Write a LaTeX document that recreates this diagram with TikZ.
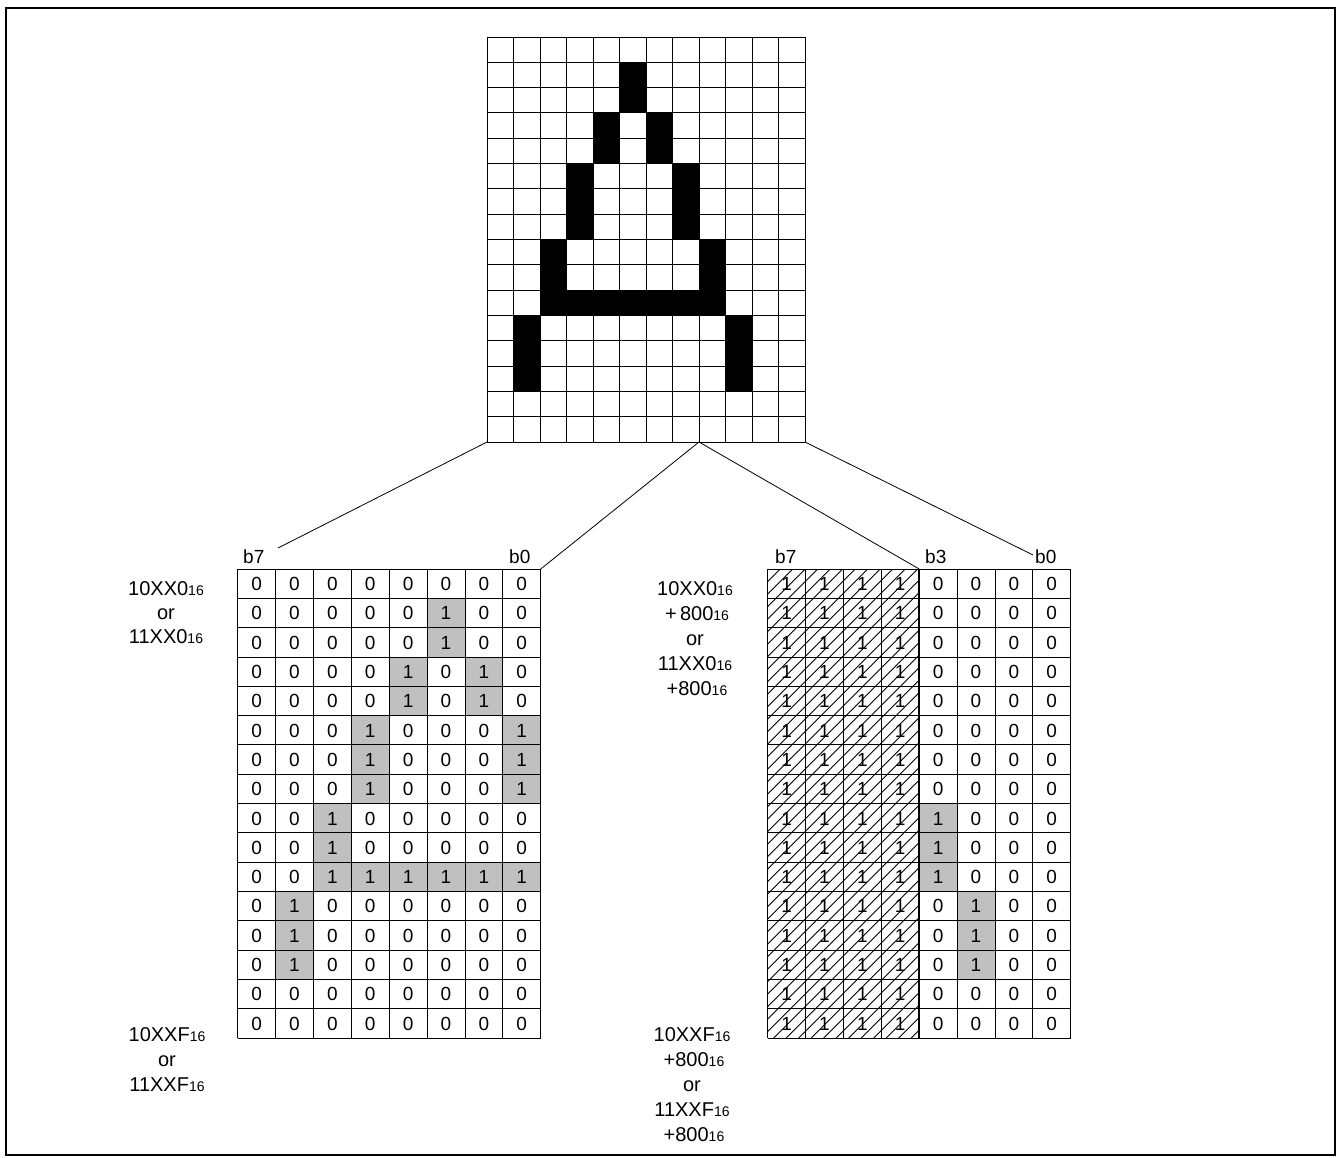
\documentclass[tikz,border=0pt]{standalone}
\usepackage{fontspec}
\setmainfont{Liberation Sans}
\definecolor{cellgray}{RGB}{192,192,192}
\newcommand{\hexsub}[1]{{\fontsize{14}{14}\selectfont #1}}
\begin{document}
\begin{tikzpicture}[x=1pt,y=-1pt,
  gline/.style={line width=0.9pt,black},
  conn/.style={line width=0.8pt,black},
  hatch/.style={line width=0.8pt,black},
  framebox/.style={line width=2pt,black},
  digit/.style={font=\fontsize{19}{19}\selectfont,anchor=base,inner sep=0pt},
  bitlbl/.style={font=\fontsize{19}{19}\selectfont,anchor=base west,inner sep=0pt},
  addr/.style={font=\fontsize{20}{20}\selectfont,anchor=base,inner sep=0pt}]
\useasboundingbox (0,0) rectangle (1343,1157);
\draw[framebox] (5.5,7.5) rectangle (1334.5,1155);
\def\bitmap{{0,0,0,0,0,0,0,0,0,0,0,0},
{0,0,0,0,0,1,0,0,0,0,0,0},
{0,0,0,0,0,1,0,0,0,0,0,0},
{0,0,0,0,1,0,1,0,0,0,0,0},
{0,0,0,0,1,0,1,0,0,0,0,0},
{0,0,0,1,0,0,0,1,0,0,0,0},
{0,0,0,1,0,0,0,1,0,0,0,0},
{0,0,0,1,0,0,0,1,0,0,0,0},
{0,0,1,0,0,0,0,0,1,0,0,0},
{0,0,1,0,0,0,0,0,1,0,0,0},
{0,0,1,1,1,1,1,1,1,0,0,0},
{0,1,0,0,0,0,0,0,0,1,0,0},
{0,1,0,0,0,0,0,0,0,1,0,0},
{0,1,0,0,0,0,0,0,0,1,0,0},
{0,0,0,0,0,0,0,0,0,0,0,0},
{0,0,0,0,0,0,0,0,0,0,0,0}}
% ---------- top character grid ----------
\foreach \i in {0,...,12} \draw[gline] (487+\i*26.5,37) -- ++(0,405);
\foreach \j in {0,...,16} \draw[gline] (487,37+\j*25.3125) -- ++(318,0);
\foreach \bits [count=\r from 0] in \bitmap {
  \foreach \b [count=\c from 0] in \bits {
    \ifnum\b=1 \fill[black] (487+\c*26.5,37+\r*25.3125) rectangle ++(26.5,25.3125); \fi
  }
}
% ---------- tables: gray fills and digits ----------
\foreach \bits [count=\r from 0] in \bitmap {
  \foreach \b [count=\c from 0] in \bits {
    \ifnum\c<8
      \ifnum\b=1 \fill[cellgray] (237.7+\c*37.875,569+\r*29.3125) rectangle ++(37.875,29.3125); \fi
      \node[digit] (L-\r-\c) at (237.7+\c*37.875+18.94,569+\r*29.3125+21.5) {\b};
    \else
      \ifnum\b=1 \fill[cellgray] (767.7+\c*37.875-4*37.875,569+\r*29.3125) rectangle ++(37.875,29.3125); \fi
      \node[digit] (R-\r-\c) at (767.7+\c*37.875-4*37.875+18.94,569+\r*29.3125+21.5) {\b};
    \fi
  }
}
% hatched upper nibble
\begin{scope}
  \clip (767.7,569) rectangle (919.2,1038);
  \foreach \k in {0,...,51} \draw[hatch] (298.7+\k*12.5,1038) -- ++(469,-469);
\end{scope}
\foreach \r in {0,...,15} {
  \foreach \c in {0,...,3} {
    \node[digit] (H-\r-\c) at (767.7+\c*37.875+18.94,569+\r*29.3125+21.5) {1};
  }
}
% table rulings
\foreach \i in {0,...,8} \draw[gline] (237.7+\i*37.875,569) -- ++(0,469);
\foreach \j in {0,...,16} \draw[gline] (237.7,569+\j*29.3125) -- ++(303,0);
\foreach \i in {0,...,8} \draw[gline] (767.7+\i*37.875,569) -- ++(0,469);
\foreach \j in {0,...,16} \draw[gline] (767.7,569+\j*29.3125) -- ++(303,0);
\draw[line width=1.6pt] (919.2,569) -- ++(0,469);
% ---------- bit labels ----------
\node[bitlbl] (lb7) at (243,563) {b7};
\node[bitlbl] (lb0) at (509,563) {b0};
\node[bitlbl] (rb7) at (775,563) {b7};
\node[bitlbl] (rb3) at (925,563) {b3};
\node[bitlbl] (rb0) at (1035,563) {b0};
% ---------- connectors ----------
\coordinate (gridBL) at (487,442);
\coordinate (gridSplit) at (699,442);
\coordinate (gridBR) at (805,442);
\coordinate (leftEnd) at (278,548);
\coordinate (leftTR) at (540.7,569);
\coordinate (rightB3) at (919.2,569);
\coordinate (rightEnd) at (1033,555);
\draw[conn] (gridBL) -- (leftEnd);
\draw[conn] (gridSplit) -- (leftTR);
\draw[conn] (gridSplit) -- (rightB3);
\draw[conn] (gridBR) -- (rightEnd);
% ---------- address labels ----------
\node[addr] (la1) at (166,595) {10XX0\hexsub{16}};
\node[addr] (la2) at (166,619) {or};
\node[addr] (la3) at (166,643) {11XX0\hexsub{16}};
\node[addr] (lz1) at (167,1041) {10XXF\hexsub{16}};
\node[addr] (lz2) at (167,1066) {or};
\node[addr] (lz3) at (167,1091) {11XXF\hexsub{16}};
\node[addr] (ra1) at (695,595) {10XX0\hexsub{16}};
\node[addr] (ra2) at (697,620) {+\,800\hexsub{16}};
\node[addr] (ra3) at (695,645) {or};
\node[addr] (ra4) at (695,670) {11XX0\hexsub{16}};
\node[addr] (ra5) at (697,695) {+800\hexsub{16}};
\node[addr] (rz1) at (692,1041) {10XXF\hexsub{16}};
\node[addr] (rz2) at (694,1066) {+800\hexsub{16}};
\node[addr] (rz3) at (692,1091) {or};
\node[addr] (rz4) at (692,1116) {11XXF\hexsub{16}};
\node[addr] (rz5) at (694,1141) {+800\hexsub{16}};
\end{tikzpicture}
\end{document}
